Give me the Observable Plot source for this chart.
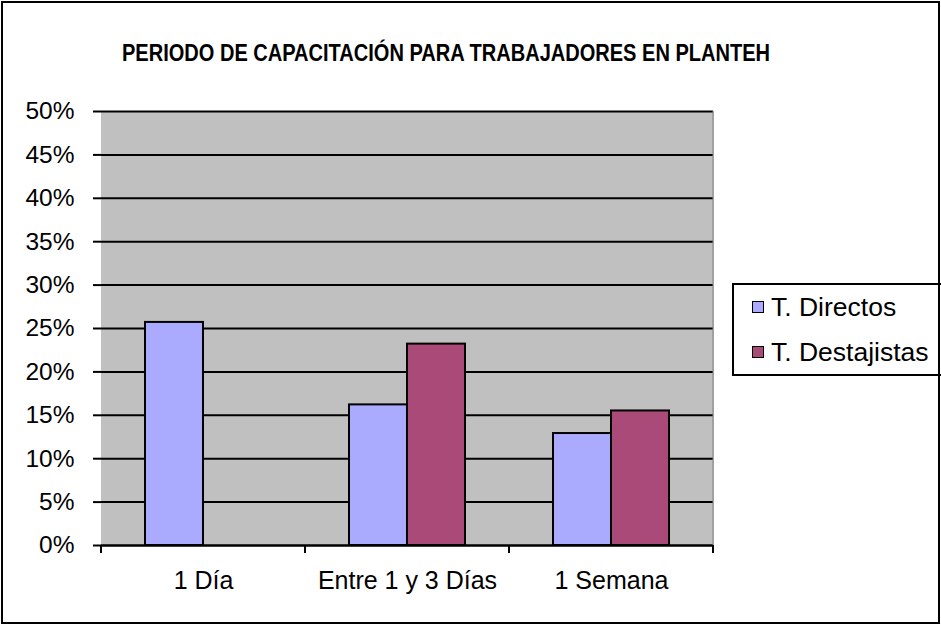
<!DOCTYPE html>
<html>
<head>
<meta charset="utf-8">
<script src="https://cdn.jsdelivr.net/npm/d3@7"></script>
<script src="https://cdn.jsdelivr.net/npm/@observablehq/plot@0.6"></script>
<style>
  html, body { margin: 0; padding: 0; background: #fff; }
  #wrap { position: relative; width: 941px; height: 625px; overflow: hidden; font-family: "Liberation Sans", Arial, sans-serif; }
  #border { position: absolute; left: 1px; top: 1px; width: 935px; height: 619px; border: 2px solid #000; pointer-events: none; }
  #title { position: absolute; left: 446px; top: 39px; font-weight: bold; font-size: 23px; line-height: 28px; color: #000; white-space: nowrap; transform-origin: 0 0; }
  #legend { position: absolute; left: 732px; top: 283px; width: 210px; height: 93px; border: 2px solid #000; border-right: none; background: #fff; box-sizing: border-box; }
  .item { position: absolute; left: 18px; height: 28px; font-size: 26.5px; line-height: 28px; display: flex; align-items: center; white-space: nowrap; }
  .sw { width: 10px; height: 10px; border: 1.5px solid #000; margin-right: 7px; }
  #chart { position: absolute; left: 0; top: 0; }
</style>
</head>
<body>
<div id="wrap">
  <div id="chart"></div>
  <div id="title">PERIODO DE CAPACITACIÓN PARA TRABAJADORES EN PLANTEH</div>
  <div id="legend"></div>
  <div id="border"></div>
</div>
<script>
const categories = ["1 Día", "Entre 1 y 3 Días", "1 Semana"];
const seriesNames = ["T. Directos", "T. Destajistas"];
const directos = [25.7, 16.2, 12.9];
const destajistas = [0, 23.2, 15.5];
const yTicks = [0, 5, 10, 15, 20, 25, 30, 35, 40, 45, 50];
const colors = ["#AAAAFF", "#AA4A78"];

const data = [];
categories.forEach((c, i) => {
  data.push({category: c, series: seriesNames[0], value: directos[i]});
  data.push({category: c, series: seriesNames[1], value: destajistas[i]});
});

const chart = Plot.plot({
  width: 941,
  height: 625,
  marginLeft: 101,
  marginRight: 228,
  marginTop: 111,
  marginBottom: 80,
  style: {fontFamily: "'Liberation Sans', Arial, sans-serif", fontSize: "25px", color: "#000", background: "transparent"},
  fx: {domain: categories, padding: 0, label: null, tickSize: 0, tickPadding: 26},
  x: {domain: seriesNames, paddingInner: 0, paddingOuter: 44 / 58, axis: null},
  y: {domain: [0, 50], ticks: yTicks, tickFormat: d => d + "%", tickSize: 8, tickPadding: 19, label: null, line: true},
  color: {domain: seriesNames, range: colors},
  marks: [
    Plot.frame({fill: "#C0C0C0", stroke: "#C0C0C0", strokeWidth: 1}),
    Plot.ruleY(yTicks, {stroke: "#000", strokeWidth: 2}),
    Plot.barY(data.filter(d => d.value > 0), {fx: "category", x: "series", y: "value", fill: "series", stroke: "#000", strokeWidth: 2}),
    Plot.ruleY([0], {stroke: "#000", strokeWidth: 2})
  ]
});
document.getElementById("chart").appendChild(chart);

const svg = d3.select(chart);
svg.selectAll("[aria-label='y-axis line'] path, [aria-label='y-axis line'] line").attr("stroke-width", 2).attr("stroke", "#000");
svg.selectAll("[aria-label='y-axis tick'] path").attr("stroke-width", 2);
svg.selectAll("[aria-label='y-axis tick label'] text").style("font-size", "24.5px");
try {
  const fx = chart.scale("fx");
  const bw = fx.bandwidth;
  const bounds = categories.map(c => fx.apply(c)).concat([fx.apply(categories[categories.length - 1]) + bw]);
  const y0 = chart.scale("y").apply(0);
  const y1 = chart.scale("y").apply(50);
  svg.append("line").attr("x1", bounds[3]).attr("x2", bounds[3]).attr("y1", y1).attr("y2", y0).attr("stroke", "#808080").attr("stroke-width", 1);
  const g = svg.append("g").attr("stroke", "#000").attr("stroke-width", 2);
  bounds.forEach(b => g.append("line").attr("x1", b).attr("x2", b).attr("y1", y0).attr("y2", y0 + 8));
} catch (e) { console.error(e); }

// title: condensed like the original
const title = document.getElementById("title");
const tw = title.getBoundingClientRect().width;
const sx = 648 / tw;
title.style.transform = `scaleX(${sx}) translateX(${-tw / 2}px)`;

// legend
const legend = document.getElementById("legend");
seriesNames.forEach((s, i) => {
  const it = document.createElement("div");
  it.className = "item";
  it.style.top = (8 + i * 45) + "px";
  it.innerHTML = `<span class="sw" style="background:${colors[i]}"></span><span>${s}</span>`;
  legend.appendChild(it);
});
</script>
</body>
</html>
